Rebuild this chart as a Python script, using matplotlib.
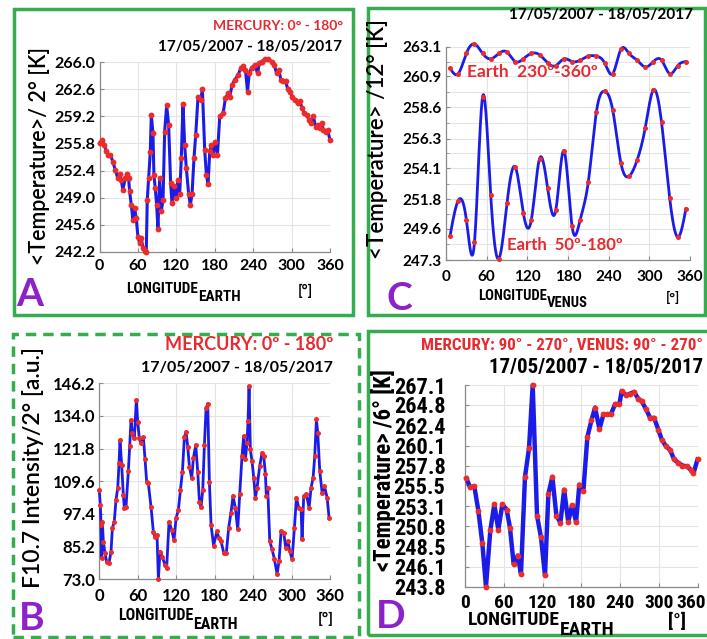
import numpy as np
import matplotlib
matplotlib.use("Agg")
import matplotlib.pyplot as plt
from matplotlib import font_manager
from matplotlib.patches import Rectangle
from matplotlib.transforms import ScaledTranslation

# ---------------- data ----------------
# A: Earth temperature vs Earth longitude (Mercury 0-180)
a_lon = [0, 3.7, 7.8, 10.4, 13, 17, 20.9, 24.5, 28.7, 31.3, 34, 36.5, 40.2, 43.3, 45.4,
         47, 49.6, 52.2, 54.8, 57.4, 60, 62.6, 65.2, 67.8, 70.4, 73, 74.6, 76.7, 79.3,
         80.9, 83.5, 85, 87.1, 89.2, 91.3, 93.9, 96.5, 99.2, 101.8, 104.9, 108, 111.1,
         113.2, 116.3, 119.9, 122.6, 125.2, 127.8, 130.4, 133, 135.6, 139.3, 141.9,
         144.5, 147.6, 150.3, 153.9, 158.1, 160.7, 164.3, 167, 169.6, 172.2, 174.8,
         177.4, 180, 184.2, 187.8, 193.1, 196.7, 200.9, 203.5, 207.2, 211.3, 216.5,
         220.7, 224.3, 228, 231.2, 233.8, 237.4, 242.7, 246.9, 249.5, 253.1, 258.3,
         263.5, 268.7, 272.9, 276.6, 280.2, 283.3, 287, 290.6, 293.8, 297.4, 301.1,
         305.2, 309.4, 313, 316.7, 319.8, 323.5, 327.1, 330.3, 333.9, 337.6, 340.7,
         344.4, 347, 349.6, 353.3, 356.4, 360]
a_temp = [255.8, 256.2, 255.6, 254.8, 254.4, 254.4, 253.5, 252.5, 251.4, 252.0, 251.2,
          250.0, 251.4, 252.0, 251.5, 249.8, 248.1, 246.2, 247.7, 246.4, 244.1, 243.3,
          243.9, 242.7, 242.3, 242.1, 248.7, 251.4, 254.7, 259.4, 257.1, 251.8, 250.2,
          248.1, 245.1, 251.4, 247.3, 248.7, 257.3, 260.6, 258.1, 250.8, 248.3, 250.4,
          248.9, 251.2, 249.4, 254.0, 260.8, 255.6, 252.7, 249.4, 248.1, 249.4, 254.0,
          256.9, 261.7, 261.3, 262.6, 255.0, 251.8, 250.7, 254.8, 255.6, 254.4, 256.0,
          254.4, 259.2, 259.6, 261.5, 262.1, 261.7, 263.2, 263.8, 264.4, 265.3, 265.5,
          265.0, 262.3, 264.6, 265.3, 265.7, 264.6, 265.9, 266.1, 266.4, 266.4, 266.1,
          265.7, 264.6, 265.0, 263.8, 263.6, 263.6, 262.7, 262.3, 261.7, 261.3, 260.9,
          261.1, 260.2, 259.6, 259.4, 258.8, 258.4, 259.2, 257.9, 258.1, 257.7, 258.4,
          257.5, 257.3, 257.5, 256.2]
a_yticks = [242.2, 245.6, 249.0, 252.4, 255.8, 259.2, 262.6, 266.0]

# B: F10.7 intensity vs Earth longitude
b_lon = [0, 1.6, 2.7, 3.7, 4.7, 6.3, 8.9, 11.5, 15.1, 18.3, 20.4, 23.4, 26, 28.7, 30.8,
         32.3, 34.9, 37.5, 39.1, 41.7, 45.3, 47.4, 49.5, 51.6, 54.7, 57.8, 59.9, 62.5,
         65.1, 68.7, 71.3, 73.9, 76.5, 80.7, 84.3, 87, 90.1, 92.2, 94.7, 98.4, 102.5,
         105.1, 108.8, 113, 116.6, 119.8, 123.4, 126.6, 129.7, 132.8, 135.4, 138, 140.6,
         144.2, 146.8, 150.5, 153.6, 156.2, 158.8, 161.4, 164, 166.6, 169.2, 171.8,
         174.4, 178.3, 183.7, 186.3, 189.9, 194.1, 198.3, 201.9, 205.5, 208.7, 212.3,
         216, 219.1, 222.7, 225.3, 227.9, 230.5, 232.1, 233.7, 235.7, 238.3, 241, 243.6,
         246.2, 250.3, 254, 256.6, 259.2, 260.7, 262.8, 266, 269.6, 273.3, 277.4, 280.5,
         283.7, 287.8, 290.9, 294.1, 297.2, 300.8, 304.5, 307.6, 311.2, 314.9, 316.4,
         319, 323.2, 327.4, 330.5, 333.6, 336.2, 338.8, 340.9, 344, 347.7, 351.3, 355.5,
         358.6]
b_flux = [106.3, 100.7, 93.3, 80.8, 94.5, 87.1, 82.7, 79.6, 79.0, 83.3, 92.1, 94.5,
          102.6, 107.0, 116.3, 125.0, 115.7, 104.5, 99.5, 100.1, 113.3, 122.6, 132.5,
          127.6, 125.6, 139.9, 131.8, 125.6, 123.8, 126.2, 118.1, 109.4, 108.8, 100.1,
          90.8, 88.9, 89.5, 73.0, 83.3, 81.4, 78.3, 77.1, 94.5, 91.4, 87.7, 95.8, 98.9,
          106.3, 113.2, 126.2, 128.1, 122.5, 115.1, 110.7, 118.2, 123.1, 113.2, 102.0,
          100.1, 106.3, 123.1, 136.8, 138.6, 109.4, 93.3, 85.6, 91.0, 88.5, 87.3, 83.0,
          83.0, 92.3, 97.9, 104.1, 99.7, 91.6, 104.7, 119.0, 126.5, 117.8, 124.0, 132.1,
          145.2, 121.5, 117.2, 110.9, 103.5, 107.2, 115.3, 120.3, 119.0, 112.2, 104.1,
          107.2, 87.3, 84.2, 80.5, 74.9, 79.8, 91.0, 90.4, 84.8, 87.3, 83.6, 80.5, 92.3,
          103.5, 99.7, 99.1, 87.9, 104.1, 104.7, 99.7, 107.2, 110.9, 119.0, 132.7, 127.7,
          113.4, 105.4, 107.8, 103.5, 96.0]
b_yticks = [73.0, 85.2, 97.4, 109.6, 121.8, 134.0, 146.2]

# C: Earth temperature vs Venus longitude, two Earth sectors
c_lon = [6, 18, 30, 42, 54, 66, 78, 90, 102, 114, 126, 138, 150, 162, 174, 186, 198,
         210, 222, 234, 246, 258, 270, 282, 294, 306, 318, 330, 342, 354]
c_temp_230_360 = [261.5, 261.1, 262.6, 263.3, 262.6, 262.2, 262.6, 262.7, 262.0, 262.2,
                  262.6, 262.5, 261.9, 261.7, 262.2, 262.0, 262.1, 262.4, 262.4, 261.9,
                  261.1, 262.9, 262.6, 262.1, 261.6, 262.0, 262.1, 261.1, 261.7, 262.0]
c_temp_50_180 = [249.1, 251.7, 250.3, 248.6, 259.4, 252.1, 247.4, 251.5, 254.2, 250.8,
                 250.3, 254.8, 252.6, 251.0, 255.4, 249.8, 250.3, 253.1, 258.3, 259.8,
                 258.4, 254.5, 253.5, 254.7, 257.1, 259.9, 257.5, 251.9, 249.0, 251.1]
c_yticks = [247.3, 249.6, 251.8, 254.1, 256.3, 258.6, 260.9, 263.1]

# D: Earth temperature vs Earth longitude (Mercury & Venus 90-270)
d_lon = [2.3, 7.7, 14.4, 20.6, 26.8, 32.4, 39.1, 45.3, 51.5, 57.7, 64.4, 69.5, 75.2,
         81.4, 86.5, 92.7, 98.9, 104.6, 111.3, 117.4, 123.6, 128.8, 135, 141.2, 147.4,
         153.2, 159.5, 165.4, 171.6, 176.7, 182.9, 189.1, 195.3, 201, 207.7, 213.9,
         220.1, 225.3, 232, 238.6, 242.1, 248.8, 255, 261.2, 267.9, 273.1, 279.8, 286,
         292.2, 298.9, 304, 310.7, 316.9, 323.1, 329.8, 336, 342.7, 348.9, 353, 359.3]
d_temp = [256.3, 255.3, 255.4, 252.6, 248.8, 243.8, 250.3, 253.3, 250.4, 253.3, 252.7,
          250.6, 246.4, 247.4, 245.3, 256.5, 259.8, 267.1, 252.0, 249.5, 245.1, 254.5,
          256.5, 252.0, 251.2, 255.0, 251.3, 253.2, 251.3, 255.6, 254.9, 261.1, 263.0,
          264.5, 262.0, 263.7, 263.7, 263.7, 264.9, 264.9, 266.4, 265.9, 266.1, 266.3,
          265.5, 265.2, 264.3, 263.3, 263.3, 261.9, 260.8, 260.0, 259.6, 258.5, 258.1,
          257.8, 257.7, 257.3, 256.9, 258.5]
d_yticks = [243.8, 246.1, 248.5, 250.8, 253.1, 255.5, 257.8, 260.1, 262.4, 264.8, 267.1]

lon_ticks = [0, 60, 120, 180, 240, 300, 360]

# ---------------- style ----------------
BLUE = "#1c1ce8"
RED = "#ee2b2b"
RED_TXT = "#e62a2f"
GREEN = "#35ad4e"
PURPLE = "#8c22c9"
AXGRAY = "#8a8a8a"
GRID = "#e4e4e4"

fonts = font_manager.fontManager.ttflist
available = {f.name for f in fonts}
MAIN = "Lato" if "Lato" in available else "DejaVu Sans"


def pick_narrow():
    # the original uses a condensed face (Calibri-like); take whatever narrow one exists
    for fam in ("Liberation Sans Narrow", "Arial Narrow", "Roboto Condensed",
                "Open Sans Condensed", "Noto Sans Condensed", "DejaVu Sans Condensed"):
        if fam in available:
            return fam, "normal", True
    for f in fonts:
        if "Narrow" in f.name or "Condensed" in f.name:
            return f.name, "normal", True
    for f in fonts:
        if f.stretch in ("condensed", "semi-condensed") and f.name in (
                "Noto Sans", "DejaVu Sans", "Roboto", "Open Sans"):
            return f.name, f.stretch, True
    return MAIN, "normal", False


NARROW, NSTRETCH, HAVE_NARROW = pick_narrow()
plt.rcParams["font.family"] = [MAIN, "DejaVu Sans"]
NK = dict(family=[NARROW, "DejaVu Sans"], fontstretch=NSTRETCH)

W, H = 707, 639
fig = plt.figure(figsize=(W / 100, H / 100), dpi=100)
fig.patch.set_facecolor("white")


def box(x0, y0, x1, y1):
    """pixel box (top-left origin) -> figure rect"""
    return [x0 / W, 1 - y1 / H, (x1 - x0) / W, (y1 - y0) / H]


def ftext(px, py, s, **kw):
    kw.setdefault("va", "center")
    return fig.text(px / W, 1 - py / H, s, **kw)


def spline(x, y, n=500):
    # natural cubic spline, only used to draw a smooth line through the dots
    x = np.asarray(x, float)
    y = np.asarray(y, float)
    h = np.diff(x)
    m = len(x)
    A = np.zeros((m, m))
    r = np.zeros(m)
    A[0, 0] = A[-1, -1] = 1
    for i in range(1, m - 1):
        A[i, i - 1], A[i, i], A[i, i + 1] = h[i - 1], 2 * (h[i - 1] + h[i]), h[i]
        r[i] = 3 * ((y[i + 1] - y[i]) / h[i] - (y[i] - y[i - 1]) / h[i - 1])
    c = np.linalg.solve(A, r)
    b = (y[1:] - y[:-1]) / h - h * (2 * c[:-1] + c[1:]) / 3
    d = (c[1:] - c[:-1]) / (3 * h)
    xs = np.linspace(x[0], x[-1], n)
    k = np.clip(np.searchsorted(x, xs) - 1, 0, m - 2)
    t = xs - x[k]
    return xs, y[k] + b[k] * t + c[k] * t ** 2 + d[k] * t ** 3


def style_axes(ax, yticks, tick_fs, narrow=False, minor=False, xpad=5):
    ax.set_xlim(0, 360)
    ax.set_ylim(yticks[0], yticks[-1])
    ax.set_xticks(lon_ticks)
    ax.set_yticks(yticks)
    ax.set_yticklabels([f"{v:.1f}" for v in yticks])
    for sp in ("top", "right"):
        ax.spines[sp].set_visible(False)
    for sp in ("left", "bottom"):
        ax.spines[sp].set_color(AXGRAY)
        ax.spines[sp].set_linewidth(0.9)
    ax.tick_params(direction="in", length=3, width=0.8, color=AXGRAY, pad=3)
    ax.tick_params(axis="x", pad=xpad)
    for lab in ax.get_xticklabels() + ax.get_yticklabels():
        lab.set_fontsize(tick_fs)
        lab.set_fontweight("bold")
        if narrow:
            lab.set_family(NK["family"])
            lab.set_fontstretch(NSTRETCH)
    if minor:
        ax.set_yticks([(a + b) / 2 for a, b in zip(yticks[:-1], yticks[1:])], minor=True)
        ax.tick_params(which="minor", direction="in", length=2, color=AXGRAY)
        ax.grid(True, which="both", color=GRID, lw=0.8)
    else:
        ax.grid(True, color=GRID, lw=0.8)
    ax.set_axisbelow(True)


def fit_width(t, max_px):
    # shrink a text until it is no wider than max_px
    fig.canvas.draw()
    while t.get_window_extent().width > max_px and t.get_fontsize() > 5:
        t.set_fontsize(t.get_fontsize() - 0.25)
        fig.canvas.draw()


def xlabel(x0, x1, y, sub, size, narrow=HAVE_NARROW):
    kw = dict(NK) if narrow else {}
    t = ftext(x0, y, "LONGITUDE", ha="left", fontsize=size, fontweight="bold", **kw)
    fit_width(t, x1 - x0)
    fs = t.get_fontsize()
    bb = t.get_window_extent()
    s = ftext(bb.x1 * W / fig.bbox.width, y + fs * 0.7, sub, ha="left",
              fontsize=fs, fontweight="bold", **kw)
    return t, s


# ---------------- panel A ----------------
axA = fig.add_axes(box(99.5, 62.3, 330, 251.7))
axA.plot(a_lon, a_temp, color=BLUE, lw=2.2, clip_on=False, zorder=3)
axA.plot(a_lon, a_temp, "o", color=RED, ms=4.2, mec="none", clip_on=False, zorder=4)
style_axes(axA, a_yticks, 11.5)
ftext(343, 26, "MERCURY: 0° - 180°", ha="right", color=RED_TXT, fontsize=10,
      fontweight="bold")
ftext(342, 47, "17/05/2007 - 18/05/2017", ha="right", fontsize=11, fontweight="bold")
ftext(40, 156, "<Temperature>/ 2° [K]", rotation=90, ha="center", fontsize=15.5,
      fontweight="semibold")
xlabel(126, 216, 289, "EARTH", 11)
ftext(305, 291, "[°]", ha="center", fontsize=10.5, fontweight="bold")
ftext(30, 294, "A", ha="center", color=PURPLE, fontsize=28, fontweight="bold")

# ---------------- panel C ----------------
axC = fig.add_axes(box(446, 46.7, 690, 260))
for temps in (c_temp_230_360, c_temp_50_180):
    xs, ys = spline(c_lon, temps)
    axC.plot(xs, ys, color=BLUE, lw=2, clip_on=False, zorder=3)
    axC.plot(c_lon, temps, "o", color=RED, ms=3.6, mec="none", clip_on=False, zorder=4)
style_axes(axC, c_yticks, 11, minor=True, xpad=7)
ftext(693, 15, "17/05/2007 - 18/05/2017", ha="right", fontsize=11, fontweight="bold")
ftext(467, 72, "Earth  230º-360º", ha="left", color=RED_TXT, fontsize=12.5,
      fontweight="bold")
ftext(507, 245, "Earth  50º-180º", ha="left", color=RED_TXT, fontsize=12,
      fontweight="bold")
ftext(378, 139, "<Temperature> /12° [K]", rotation=90, ha="center", fontsize=16,
      fontweight="semibold")
xlabel(478, 566, 296, "VENUS", 10.5)
ftext(673, 297, "[°]", ha="center", fontsize=10, fontweight="bold")
ftext(399, 299, "C", ha="center", color=PURPLE, fontsize=28, fontweight="bold")

# ---------------- panel B ----------------
axB = fig.add_axes(box(99.3, 383.3, 330, 579.3))
axB.plot(b_lon, b_flux, color=BLUE, lw=2, clip_on=False, zorder=3)
axB.plot(b_lon, b_flux, "o", color=RED, ms=3.6, mec="none", clip_on=False, zorder=4)
style_axes(axB, b_yticks, 12, xpad=6)
ftext(333, 345, "MERCURY: 0º - 180º", ha="right", color=RED_TXT, fontsize=13,
      fontweight="bold")
ftext(333, 368, "17/05/2007 - 18/05/2017", ha="right", fontsize=11.5, fontweight="bold")
ftext(33, 468, "F10.7 Intensity/2° [a.u.]", rotation=90, ha="center", fontsize=16.5,
      fontweight="semibold")
xlabel(118, 208, 616, "EARTH", 11.5)
ftext(326, 619, "[°]", ha="center", fontsize=11, fontweight="bold")
ftext(32, 619, "B", ha="center", color=PURPLE, fontsize=28, fontweight="bold")

# ---------------- panel D ----------------
axD = fig.add_axes(box(465, 385, 698, 586.7))
axD.plot(d_lon, d_temp, color=BLUE, lw=3.2, clip_on=False, zorder=3)
axD.plot(d_lon, d_temp, "o", color=RED, ms=4.2, mec="none", clip_on=False, zorder=4)
style_axes(axD, d_yticks, 16 if HAVE_NARROW else 14.5, narrow=True, xpad=5)
for lab in axD.get_xticklabels():
    lab.set_fontsize(14 if HAVE_NARROW else 13)
last = axD.get_xticklabels()[-1]
last.set_horizontalalignment("right")
last.set_transform(last.get_transform() + ScaledTranslation(8 / 100, 0, fig.dpi_scale_trans))
axD.tick_params(axis="y", pad=14)
tD = ftext(421, 345, "MERCURY: 90° - 270°, VENUS: 90° - 270°", ha="left", color=RED_TXT,
           fontsize=15, fontweight="bold", **NK)
fit_width(tD, 284)
tDd = ftext(703, 367, "17/05/2007 - 18/05/2017", ha="right", fontsize=16, fontweight="bold",
            **NK)
fit_width(tDd, 215)
tDy = ftext(383, 470, "<Temperature> /6° [K]", rotation=90, ha="center", fontsize=16.5,
            fontweight="semibold", **NK)
xlabel(468, 578, 620, "EARTH", 14, narrow=True)
ftext(677, 622, "[°]", ha="center", fontsize=14, fontweight="bold", **NK)
ftext(391, 617, "D", ha="center", color=PURPLE, fontsize=28, fontweight="bold")

# ---------------- panel frames ----------------
for (x0, y0, x1, y1), ls in [((14, 9, 353, 315), "-"), ((368, 8, 705, 315), "-"),
                             ((13, 334, 359, 637), (0, (3, 2))),
                             ((368, 331, 712, 635), "-")]:
    fig.add_artist(Rectangle((x0 / W, 1 - y1 / H), (x1 - x0) / W, (y1 - y0) / H,
                             transform=fig.transFigure, fill=False, ec=GREEN, lw=2.5,
                             ls=ls, clip_on=False))

fig.savefig("out.png", dpi=100)
